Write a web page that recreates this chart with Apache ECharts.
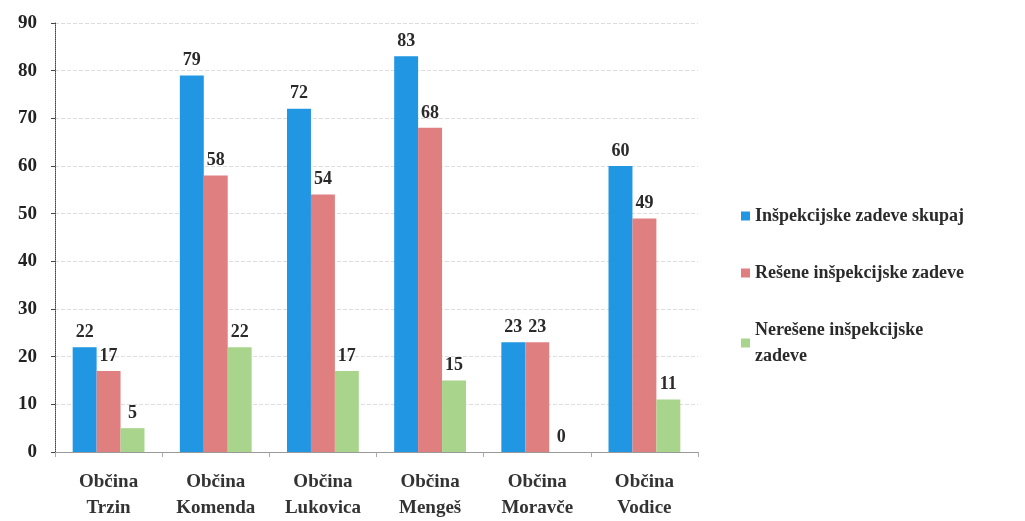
<!DOCTYPE html>
<html><head><meta charset="utf-8">
<script src="https://cdn.jsdelivr.net/npm/echarts@6/dist/echarts.min.js"></script>
<style>html,body{margin:0;padding:0;background:#fff}#c{width:1025px;height:521px}</style>
</head><body><div id="c"></div>
<script>
const categories = ["Občina\nTrzin","Občina\nKomenda","Občina\nLukovica","Občina\nMengeš","Občina\nMoravče","Občina\nVodice"];
const seriesNames = ["Inšpekcijske zadeve skupaj","Rešene inšpekcijske zadeve","Nerešene inšpekcijske zadeve"];
const skupaj = [22,79,72,83,23,60];
const resene = [17,58,54,68,23,49];
const neresene = [5,22,17,15,0,11];
const colors = ["#2196e3","#df7f7f","#a8d48c"];
const font = "'Liberation Serif','DejaVu Serif',serif";
const chart = echarts.init(document.getElementById('c'));
const lbl = {show:true,position:'top',distance:6,color:'#2a2a2a',fontFamily:font,fontSize:18,fontWeight:'bold'};
chart.setOption({
  animation:false,
  color:colors,
  grid:{left:55,top:23,width:643,height:429,containLabel:false},
  legend:{orient:'vertical',left:736,top:198,itemWidth:9,itemHeight:9,itemGap:31,icon:'rect',
    textStyle:{fontFamily:font,fontSize:18,color:'#2a2a2a',fontWeight:'bold',lineHeight:26},
    formatter:n=>n==="Nerešene inšpekcijske zadeve"?"Nerešene inšpekcijske\nzadeve":n,
    data:seriesNames},
  xAxis:{type:'category',data:categories,
    axisLine:{lineStyle:{color:'#999'}},axisTick:{show:true,lineStyle:{color:'#aaa'}},
    axisLabel:{fontFamily:font,fontSize:19,color:'#333',fontWeight:'bold',lineHeight:26,margin:17}},
  yAxis:{type:'value',min:0,max:90,interval:10,
    axisLine:{show:true,lineStyle:{color:'#444',type:'dotted'}},
    axisTick:{show:true,length:4,lineStyle:{color:'#444'}},
    axisLabel:{fontFamily:font,fontSize:19,color:'#222',fontWeight:'bold',margin:18},
    splitLine:{lineStyle:{color:'#ddd',type:'dashed'}}},
  series:[
    {name:seriesNames[0],type:'bar',data:skupaj,barGap:'0%',barCategoryGap:'33%',label:lbl},
    {name:seriesNames[1],type:'bar',data:resene,label:lbl},
    {name:seriesNames[2],type:'bar',data:neresene,label:lbl}
  ]
});
</script></body></html>
